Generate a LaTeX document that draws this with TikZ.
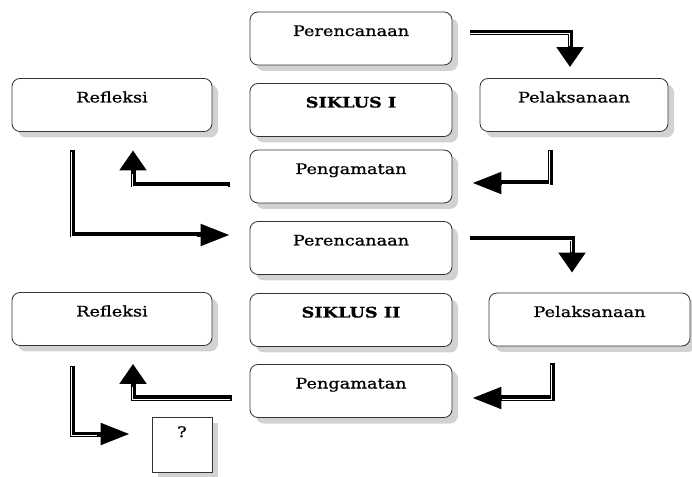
\documentclass[tikz,border=0pt]{standalone}
\usepackage{fontspec}
\setmainfont{DejaVu Serif}[FakeStretch=1.22]
\newfontfamily\boxfont{DejaVu Serif}[FakeStretch=1.22, FakeBold=0.9]
\usetikzlibrary{arrows.meta,shadows}

\begin{document}
\begin{tikzpicture}[x=1pt, y=1pt, font=\boxfont\fontsize{14.5}{16}\selectfont,
  box/.style={rectangle, rounded corners=8pt, draw=black!80, line width=0.8pt, fill=white, minimum width=202pt, inner ysep=0pt, text height=24pt, text depth=29pt, drop shadow={shadow xshift=6pt, shadow yshift=-6pt, fill=black!35}},
  flow/.style={line width=5pt, postaction={draw=white, line width=0.6pt, -, shorten >=#1, transform canvas={xshift=-1.2pt, yshift=-1.2pt}}},
  flowv/.style={flow=22pt, -{Triangle[length=20pt, width=26pt]}},
  flowh/.style={flow=31pt, -{Triangle[length=29pt, width=21pt]}}]

  \useasboundingbox (0,0) rectangle (692,476);

  \node[box] (rencana1) at (351,437.5) {Perencanaan};
  \node[box, below of=rencana1, node distance=71.5pt] (siklus1) {\bfseries SIKLUS I};
  \node[box, below of=siklus1, node distance=66.5pt] (amat1) {Pengamatan};
  \node[box, right of=siklus1, node distance=223pt, yshift=5pt, minimum width=188pt] (laksana1) {Pelaksanaan};
  \node[box, left of=siklus1, node distance=239pt, yshift=5pt, minimum width=200pt] (refleksi1) {Refleksi};

  \node[box, below of=amat1, node distance=71.5pt] (rencana2) {Perencanaan};
  \node[box, below of=rencana2, node distance=72pt] (siklus2) {\bfseries SIKLUS II};
  \node[box, below of=siklus2, node distance=71pt] (amat2) {Pengamatan};
  \node[box, right of=siklus2, node distance=238.5pt, yshift=0.5pt, minimum width=201pt] (laksana2) {Pelaksanaan};
  \node[box, left of=siklus2, node distance=239pt, yshift=1pt, minimum width=200pt] (refleksi2) {Refleksi};
  \node[box, rounded corners=0pt, minimum width=60pt, text height=20pt, text depth=35pt] (tanya) at (182,31.5) {?};

  \draw[flowv] ([xshift=18pt, yshift=6pt]rencana1.east) -| ([xshift=-4pt, yshift=11pt]laksana1.north);
  \draw[flowh] ([xshift=-24pt, yshift=-18pt]laksana1.south) |- ([xshift=20pt, yshift=-6.5pt]amat1.east);
  \draw[flowv] ([xshift=-20pt, yshift=-8.5pt]amat1.west) -| ([xshift=21pt, yshift=-18.5pt]refleksi1.south);
  \draw[flowh] ([xshift=-40pt, yshift=-18.5pt]refleksi1.south) |- ([xshift=-20pt, yshift=13pt]rencana2.west);

  \draw[flowv] ([xshift=18pt, yshift=9pt]rencana2.east) -| ([xshift=-17.5pt, yshift=20pt]laksana2.north);
  \draw[flowh] ([xshift=-37.5pt, yshift=-17pt]laksana2.south) |- ([xshift=20pt, yshift=-7pt]amat2.east);
  \draw[flowv] ([xshift=-18pt, yshift=-7pt]amat2.west) -| ([xshift=21pt, yshift=-18pt]refleksi2.south);
  \draw[flowh] ([xshift=-40pt, yshift=-20pt]refleksi2.south) |- ([xshift=-22pt, yshift=10.5pt]tanya.west);
\end{tikzpicture}
\end{document}
